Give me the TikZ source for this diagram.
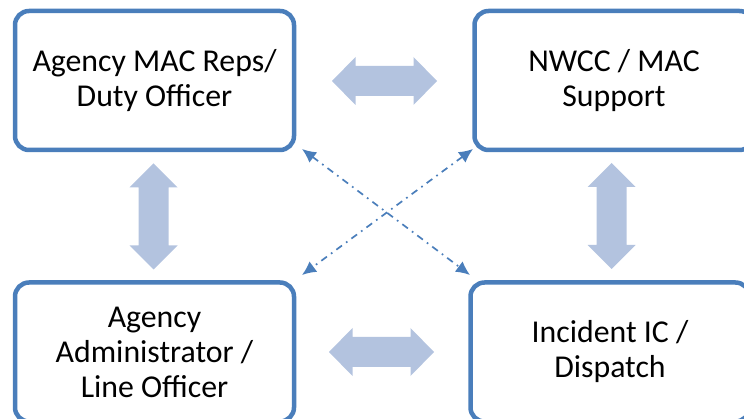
\documentclass[tikz,border=0pt]{standalone}
\usepackage{fontspec}
\setmainfont{Carlito}
\definecolor{boxblue}{HTML}{4A7EBB}
\definecolor{arrowfill}{HTML}{B3C3DF}
\begin{document}
\begin{tikzpicture}[x=1pt,y=-1pt,
  box/.style={draw=boxblue, line width=4.5pt, rounded corners=14pt, fill=white,
    minimum width=279pt, minimum height=139pt, align=center, inner sep=0pt,
    font=\fontsize{31.8}{35}\selectfont},
  dd/.style={boxblue, line width=1.7pt, dash pattern=on 7pt off 5pt on 1.7pt off 5pt,
    {Latex[length=14pt,width=13pt]}-{Latex[length=14pt,width=13pt]}, shorten <=0pt, shorten >=0pt},
  blockarrow/.style={fill=arrowfill, draw=none}
]
\usetikzlibrary{arrows.meta}
\useasboundingbox (0,0) rectangle (744,419);
\clip (0,0) rectangle (744,419);

\node[box] (tl) at (154.5,80.5) {Agency MAC Reps/\\Duty Officer};
\node[box] (tr) at (614,80.5) {NWCC / MAC\\Support};
\node[box] (bl) at (154.5,352) {Agency\\Administrator /\\Line Officer};
\node[box] (br) at (610,352) {Incident IC /\\Dispatch};

% horizontal block arrows
\coordinate (h1) at (384.5,81);
\coordinate (h2) at (381.5,352);
\foreach \c in {h1,h2}{
  \fill[blockarrow, shift={(\c)}] (-52.5,0) -- (-29,-24) -- (-29,-15) -- (29,-15) -- (29,-24)
    -- (52.5,0) -- (29,24) -- (29,15) -- (-29,15) -- (-29,24) -- cycle;
}
% vertical block arrows
\coordinate (v1) at (153.5,216.5);
\coordinate (v2) at (611.5,216);
\foreach \c in {v1,v2}{
  \fill[blockarrow, shift={(\c)}] (0,-53) -- (24,-29) -- (15,-29) -- (15,29) -- (24,29)
    -- (0,53) -- (-24,29) -- (-15,29) -- (-15,-29) -- (-24,-29) -- cycle;
}

% dash-dot diagonal arrows
\coordinate (a1) at (302,149);
\coordinate (a2) at (470,275);
\coordinate (a3) at (473,149);
\coordinate (a4) at (302,275);
\draw[dd] (a1) -- (a2);
\draw[dd] (a3) -- (a4);
\end{tikzpicture}
\end{document}
